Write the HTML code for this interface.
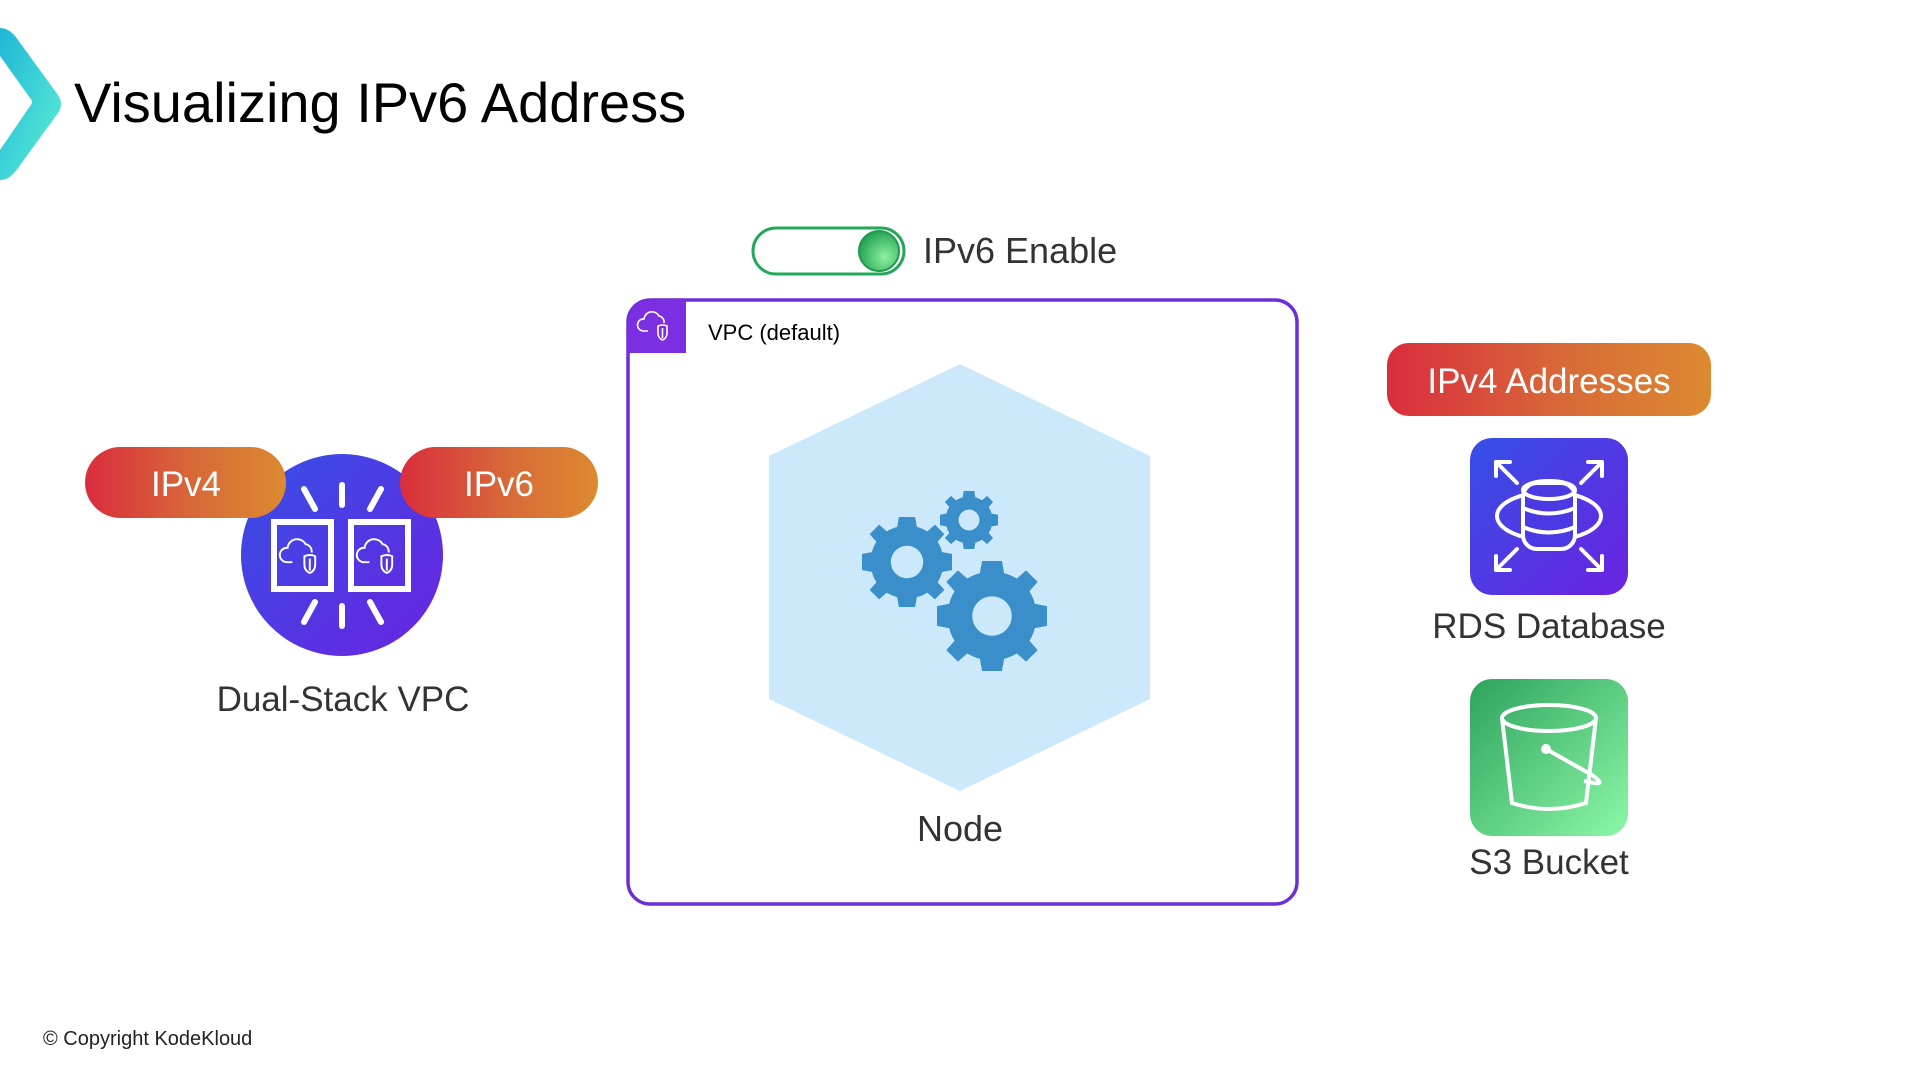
<!DOCTYPE html>
<html><head><meta charset="utf-8"><style>
html,body{margin:0;padding:0;background:#fff;}
svg{display:block;}
text{font-family:"Liberation Sans",sans-serif;}
</style></head><body>
<svg width="1920" height="1080" viewBox="0 0 1920 1080" xmlns="http://www.w3.org/2000/svg">
<defs>
<linearGradient id="chev" x1="0" y1="0" x2="1" y2="1"><stop offset="0" stop-color="#1fb6d6"/><stop offset="1" stop-color="#5ef0d6"/></linearGradient>
<linearGradient id="pill" x1="0" y1="0" x2="1" y2="0"><stop offset="0" stop-color="#d92d3d"/><stop offset="0.55" stop-color="#d86a38"/><stop offset="1" stop-color="#dc8a30"/></linearGradient>
<linearGradient id="purp" x1="0" y1="0" x2="1" y2="1"><stop offset="0" stop-color="#3550e6"/><stop offset="1" stop-color="#6b22e0"/></linearGradient>
<linearGradient id="grn" x1="0" y1="0" x2="1" y2="1"><stop offset="0" stop-color="#2ea35c"/><stop offset="1" stop-color="#8cf7a8"/></linearGradient>
<radialGradient id="knob" cx="0.65" cy="0.65" r="0.7"><stop offset="0" stop-color="#8ef0a0"/><stop offset="1" stop-color="#1fa052"/></radialGradient>
<g id="gear">
<path d="M0,-1 L0.18,-1 L0.22,-0.78 A0.8,0.8 0 0 1 0.45,-0.68 L0.62,-0.83 L0.83,-0.62 L0.68,-0.45 A0.8,0.8 0 0 1 0.78,-0.22 L1,-0.18 L1,0.18 L0.78,0.22 A0.8,0.8 0 0 1 0.68,0.45 L0.83,0.62 L0.62,0.83 L0.45,0.68 A0.8,0.8 0 0 1 0.22,0.78 L0.18,1 L-0.18,1 L-0.22,0.78 A0.8,0.8 0 0 1 -0.45,0.68 L-0.62,0.83 L-0.83,0.62 L-0.68,0.45 A0.8,0.8 0 0 1 -0.78,0.22 L-1,0.18 L-1,-0.18 L-0.78,-0.22 A0.8,0.8 0 0 1 -0.68,-0.45 L-0.83,-0.62 L-0.62,-0.83 L-0.45,-0.68 A0.8,0.8 0 0 1 -0.22,-0.78 L-0.18,-1 Z M0.36,0 A0.36,0.36 0 1 0 -0.36,0 A0.36,0.36 0 1 0 0.36,0 Z" fill="#3a8fcb" fill-rule="evenodd"/>
</g>
<g id="cloud" fill="none" stroke="#fff" stroke-width="1.6">
<path d="M-8,6 H-13 A6,6 0 0 1 -12,-6 A8,8 0 0 1 3,-9 A6,6 0 0 1 8,-2"/>
<path d="M2,1 Q7,-1 11,1 V8 Q11,13 6.5,15 Q2,13 2,8 Z"/>
<path d="M6.5,3 V13"/>
</g>
</defs>

<!-- logo chevron -->
<path d="M0,28 Q10,28 18,40 L58,95 Q64,104 58,113 L18,168 Q10,180 0,180 L0,150 L30,106 Q34,102 30,98 L0,56 Z" fill="url(#chev)"/>
<text x="74" y="122" font-size="56" fill="#000">Visualizing IPv6 Address</text>

<!-- toggle -->
<rect x="753" y="228" width="151" height="46" rx="23" fill="#fff" stroke="#22a85a" stroke-width="3"/>
<circle cx="879" cy="251" r="20" fill="url(#knob)" stroke="#1f9a4e" stroke-width="2"/>
<text x="923" y="263" font-size="36" fill="#333">IPv6 Enable</text>

<!-- VPC box -->
<rect x="628" y="300" width="669" height="604" rx="22" fill="#fff" stroke="#6d2fd8" stroke-width="3.5"/>
<path d="M628,353 V322 A22,22 0 0 1 650,300 H686 V353 Z" fill="#7b2fe0"/>
<use href="#cloud" x="656" y="325"/>
<text x="708" y="340" font-size="22" fill="#000">VPC (default)</text>

<polygon points="960,364 1150,456 1150,699 960,791 769,699 769,456" fill="#cce9fb"/>
<use href="#gear" transform="translate(907,562) scale(45)"/>
<use href="#gear" transform="translate(969,520) scale(29)"/>
<use href="#gear" transform="translate(992,616) scale(55)"/>
<text x="960" y="841" font-size="36" fill="#333" text-anchor="middle">Node</text>

<!-- Dual stack -->
<g transform="translate(-3,-5)">
<circle cx="345" cy="560" r="101" fill="url(#purp)"/>
<g stroke="#fff" stroke-width="6" stroke-linecap="round" fill="none">
<line x1="345" y1="490" x2="345" y2="510"/><line x1="307" y1="494" x2="318" y2="514"/><line x1="384" y1="494" x2="373" y2="514"/>
<line x1="345" y1="611" x2="345" y2="631"/><line x1="307" y1="627" x2="318" y2="607"/><line x1="384" y1="627" x2="373" y2="607"/>
<rect x="277" y="527" width="57" height="67"/><rect x="354" y="527" width="57" height="67"/>
</g>
<use href="#cloud" transform="translate(305,560) scale(1.2)"/>
<use href="#cloud" transform="translate(382,560) scale(1.2)"/>
</g>
<rect x="85" y="447" width="201" height="71" rx="35.5" fill="url(#pill)"/>
<text x="186" y="496" font-size="35" fill="#fff" text-anchor="middle">IPv4</text>
<rect x="400" y="447" width="198" height="71" rx="35.5" fill="url(#pill)"/>
<text x="499" y="496" font-size="35" fill="#fff" text-anchor="middle">IPv6</text>
<text x="343" y="711" font-size="35" fill="#333" text-anchor="middle">Dual-Stack VPC</text>

<!-- right side -->
<rect x="1387" y="343" width="324" height="73" rx="22" fill="url(#pill)"/>
<text x="1549" y="393" font-size="35" fill="#fff" text-anchor="middle">IPv4 Addresses</text>

<rect x="1470" y="438" width="158" height="157" rx="22" fill="url(#purp)"/>
<g transform="translate(-16,-5)" stroke="#fff" stroke-width="4" fill="none" stroke-linecap="round">
<ellipse cx="1565" cy="521" rx="52" ry="24"/>
<rect x="1539" y="488" width="52" height="66" rx="14" fill="#4a3ae4"/>
<ellipse cx="1565" cy="495" rx="26" ry="9"/>
<path d="M1539,513 Q1565,524 1591,513 M1539,532 Q1565,543 1591,532"/>
<path d="M1512,467 L1533,488 M1512,467 H1526 M1512,467 V481"/>
<path d="M1618,467 L1597,488 M1618,467 H1604 M1618,467 V481"/>
<path d="M1512,575 L1533,554 M1512,575 H1526 M1512,575 V561"/>
<path d="M1618,575 L1597,554 M1618,575 H1604 M1618,575 V561"/>
</g>
<text x="1549" y="638" font-size="35" fill="#333" text-anchor="middle">RDS Database</text>

<rect x="1470" y="679" width="158" height="157" rx="22" fill="url(#grn)"/>
<g transform="translate(-16,-7)" stroke="#fff" stroke-width="4" fill="none">
<ellipse cx="1565" cy="725" rx="47" ry="13"/>
<path d="M1518,725 L1528,810 Q1565,822 1602,810 L1612,725"/>
<path d="M1562,756 L1608,782 Q1622,792 1610,790 L1600,788"/>
<circle cx="1562" cy="756" r="5" fill="#fff" stroke="none"/>
</g>
<text x="1549" y="874" font-size="35" fill="#333" text-anchor="middle">S3 Bucket</text>

<text x="43" y="1045" font-size="20" fill="#222">© Copyright KodeKloud</text>
</svg>
</body></html>
